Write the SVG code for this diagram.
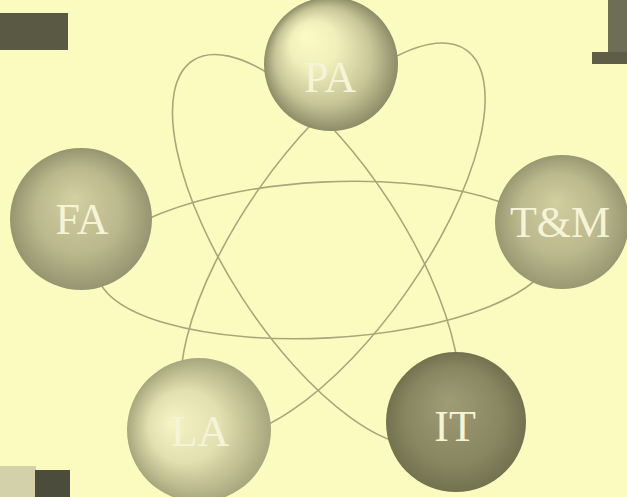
<svg xmlns="http://www.w3.org/2000/svg" width="627" height="497" viewBox="0 0 627 497">
<style>
.orbit{fill:none;stroke:#A8A67A;stroke-width:1.6}
.lbl{font-family:"Liberation Serif","Times New Roman",serif;font-size:44px;fill:#F6F4D6;text-anchor:middle}
</style>
<defs>
<radialGradient id="gPA" cx="0.5" cy="0.5" r="0.5" fx="0.3" fy="0.28">
<stop offset="0" stop-color="#FCFBC6"/><stop offset="0.35" stop-color="#F1EFBA"/><stop offset="0.72" stop-color="#C8C698"/><stop offset="1" stop-color="#8E8C67"/>
</radialGradient>
<radialGradient id="gFA" cx="0.5" cy="0.5" r="0.5" fx="0.45" fy="0.35">
<stop offset="0" stop-color="#D3D1A3"/><stop offset="0.6" stop-color="#BAB88C"/><stop offset="1" stop-color="#979570"/>
</radialGradient>
<radialGradient id="gTM" cx="0.5" cy="0.5" r="0.5" fx="0.45" fy="0.35">
<stop offset="0" stop-color="#D1CFA0"/><stop offset="0.6" stop-color="#BBB98D"/><stop offset="1" stop-color="#9A9872"/>
</radialGradient>
<radialGradient id="gLA" cx="0.5" cy="0.5" r="0.5" fx="0.3" fy="0.45">
<stop offset="0" stop-color="#F6F4C4"/><stop offset="0.5" stop-color="#E2E0B0"/><stop offset="1" stop-color="#A8A67D"/>
</radialGradient>
<radialGradient id="gIT" cx="0.5" cy="0.5" r="0.5" fx="0.45" fy="0.35">
<stop offset="0" stop-color="#9E9D76"/><stop offset="0.7" stop-color="#878660"/><stop offset="1" stop-color="#73724F"/>
</radialGradient>
</defs>
<rect width="627" height="497" fill="#FCFBBF"/>
<g id="artifacts">
<rect x="0" y="13" width="68" height="37" fill="#5A5A44"/>
<rect x="608" y="0" width="19" height="53" fill="#6E6E56"/>
<rect x="592" y="52" width="35" height="12" fill="#5E5E48"/>
<rect x="0" y="466" width="36" height="31" fill="#D2D1A9"/>
<rect x="35" y="470" width="35" height="27" fill="#4C4C3C"/>
</g>
<g id="connectors">
<ellipse class="orbit" cx="325" cy="260" rx="228" ry="78" transform="rotate(-3 325 260)"/>
<ellipse class="orbit" cx="316" cy="250" rx="226" ry="88" transform="rotate(57 316 250)"/>
<ellipse class="orbit" cx="333" cy="240" rx="232" ry="90" transform="rotate(-55 333 240)"/>
</g>
<g id="node-PA"><circle cx="331" cy="64" r="67" fill="url(#gPA)"/><text class="lbl" x="330" y="92">PA</text></g>
<g id="node-FA"><circle cx="81" cy="219" r="71" fill="url(#gFA)"/><text class="lbl" x="82" y="234">FA</text></g>
<g id="node-TM"><circle cx="562" cy="222" r="67" fill="url(#gTM)"/><text class="lbl" x="560" y="237">T&amp;M</text></g>
<g id="node-LA"><circle cx="199" cy="430" r="72" fill="url(#gLA)"/><text class="lbl" x="200" y="446">LA</text></g>
<g id="node-IT"><circle cx="456" cy="422" r="70" fill="url(#gIT)"/><text class="lbl" x="455" y="441">IT</text></g>
</svg>
